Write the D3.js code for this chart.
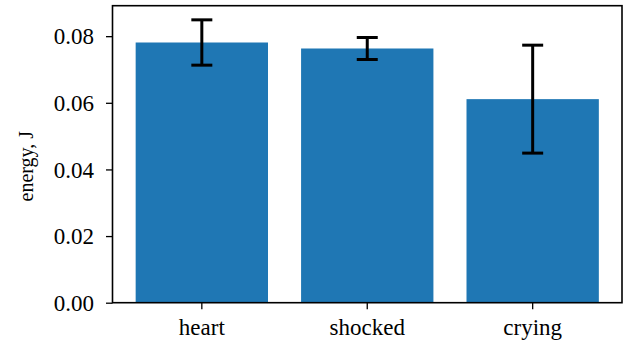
<!DOCTYPE html>
<html>
<head>
<meta charset="utf-8">
<script src="https://cdn.jsdelivr.net/npm/d3@7/dist/d3.min.js"></script>
<style>
  html, body { margin: 0; padding: 0; background: #fff; }
  svg { display: block; }
  svg text { font-family: "Liberation Serif", "Tinos", "Times New Roman", "DejaVu Serif", "Noto Serif", serif !important; }
</style>
</head>
<body>
<script>
// Mean energy per emoji category, with the spread shown as error bars
const categories = ["heart", "shocked", "crying"];
const energy = [0.0781, 0.0763, 0.0611];
const energyErr = [0.0068, 0.0033, 0.0162];
const yTicks = [0.00, 0.02, 0.04, 0.06, 0.08];
const yLabel = "energy, J";

const FONT = "Liberation Serif, Tinos, Times New Roman, DejaVu Serif, serif";

const W = 632, H = 345;
const m = { left: 112.5, right: 622, top: 5.7, bottom: 302.7 };

const svg = d3.select("body").append("svg")
  .attr("width", W).attr("height", H)
  .attr("font-family", FONT);

const x = d3.scaleBand()
  .domain(categories)
  .range([m.left, m.right])
  .paddingInner(0.2)
  .paddingOuter(0.14);

const yMax = d3.max(energy.map((v, i) => v + energyErr[i])) * 1.05;
const y = d3.scaleLinear().domain([0, yMax]).range([m.bottom, m.top]);

// bars
svg.append("g").selectAll("rect")
  .data(categories)
  .join("rect")
  .attr("x", d => x(d))
  .attr("width", x.bandwidth())
  .attr("y", (d, i) => y(energy[i]))
  .attr("height", (d, i) => y(0) - y(energy[i]))
  .attr("fill", "#1f77b4");

// error bars with caps
const capW = 21;
const eb = svg.append("g").attr("stroke", "#000").attr("stroke-width", 3);
categories.forEach((c, i) => {
  const cx = x(c) + x.bandwidth() / 2;
  const lo = y(energy[i] - energyErr[i]);
  const hi = y(energy[i] + energyErr[i]);
  eb.append("line").attr("x1", cx).attr("x2", cx).attr("y1", lo).attr("y2", hi);
  eb.append("line").attr("x1", cx - capW / 2).attr("x2", cx + capW / 2).attr("y1", lo).attr("y2", lo);
  eb.append("line").attr("x1", cx - capW / 2).attr("x2", cx + capW / 2).attr("y1", hi).attr("y2", hi);
});

// y axis
const yAxis = svg.append("g")
  .attr("transform", `translate(${m.left},0)`)
  .call(d3.axisLeft(y).tickValues(yTicks).tickFormat(d3.format(".2f")).tickSize(6.5).tickPadding(12));
yAxis.attr("font-family", FONT).attr("font-size", 23);
yAxis.select(".domain").remove();
yAxis.selectAll(".tick line").attr("stroke", "#000").attr("stroke-width", 1.3);
yAxis.selectAll(".tick text")
  .attr("font-family", FONT).attr("font-size", 23)
  .attr("fill", "#000").attr("dy", "0.34em");

// x axis
const xAxis = svg.append("g")
  .attr("transform", `translate(0,${m.bottom})`)
  .call(d3.axisBottom(x).tickSize(6.5).tickPadding(8));
xAxis.attr("font-family", FONT).attr("font-size", 23);
xAxis.select(".domain").remove();
xAxis.selectAll(".tick line").attr("stroke", "#000").attr("stroke-width", 1.3);
xAxis.selectAll(".tick text")
  .attr("font-family", FONT).attr("font-size", 23)
  .attr("fill", "#000").attr("dy", "0.78em");

// frame
svg.append("rect")
  .attr("x", m.left).attr("y", m.top)
  .attr("width", m.right - m.left).attr("height", m.bottom - m.top)
  .attr("fill", "none").attr("stroke", "#000").attr("stroke-width", 1.6);

// y label
svg.append("text")
  .attr("transform", `translate(33,${(m.top + m.bottom) / 2 + 12}) rotate(-90)`)
  .attr("text-anchor", "middle")
  .attr("font-family", FONT)
  .attr("font-size", 20)
  .text(yLabel);
</script>
</body>
</html>
